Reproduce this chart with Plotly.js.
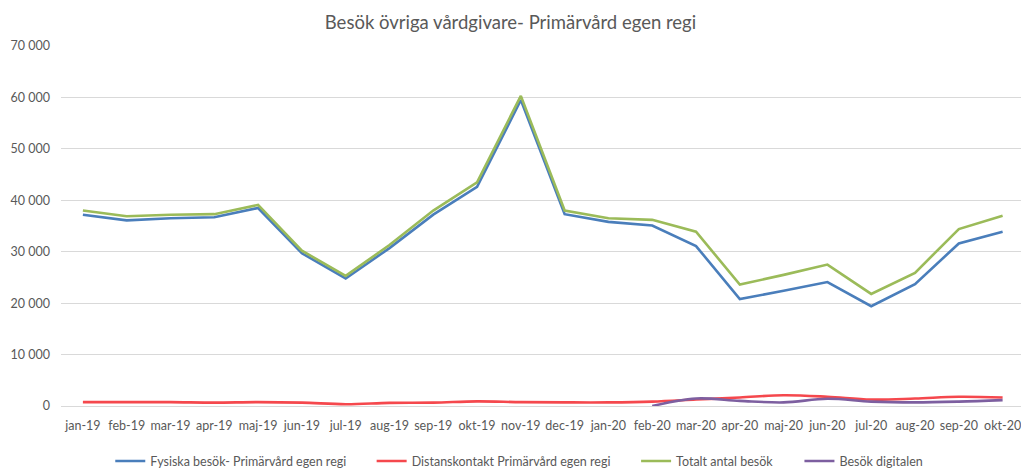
<!DOCTYPE html>
<html>
<head>
<meta charset="utf-8">
<script src="https://cdn.plot.ly/plotly-3.0.1.min.js"></script>
<style>html,body{margin:0;padding:0;background:#fff;}#chart{width:1021px;height:468px;}</style>
</head>
<body>
<div id="chart"></div>
<script>
const months = ["jan-19","feb-19","mar-19","apr-19","maj-19","jun-19","jul-19","aug-19","sep-19","okt-19","nov-19","dec-19",
                "jan-20","feb-20","mar-20","apr-20","maj-20","jun-20","jul-20","aug-20","sep-20","okt-20"];
const fysiska = [37200,36100,36500,36700,38500,29700,24800,30700,37200,42600,59500,37300,
                 35800,35100,31100,20800,22400,24100,19400,23700,31600,33900];
const distans = [750,750,750,650,750,650,350,600,650,900,750,700,
                 700,850,1250,1650,2100,1800,1250,1450,1800,1650];
const totalt  = [38000,36900,37200,37300,39100,30200,25300,31300,38000,43500,60300,38000,
                 36500,36200,33900,23600,25500,27500,21800,25900,34400,37000];
const digitalenMonths = ["feb-20","mar-20","apr-20","maj-20","jun-20","jul-20","aug-20","sep-20","okt-20"];
const digitalen = [0,1450,1000,700,1400,850,700,850,1150];
const seriesNames = ["Fysiska besök- Primärvård egen regi","Distanskontakt Primärvård egen regi","Totalt antal besök","Besök digitalen"];
const colors = ["#4a7ebb","#f5484d","#9bbb59","#7d5fa0"];

const font = "Lato, 'Open Sans', sans-serif";
const traces = [
  {x: months, y: fysiska, name: seriesNames[0], legend: "legend", line:{color:colors[0], width:2.6}},
  {x: months, y: distans, name: seriesNames[1], legend: "legend2", line:{color:colors[1], width:2.6, shape:"spline"}},
  {x: months, y: totalt, name: seriesNames[2], legend: "legend3", line:{color:colors[2], width:2.6}},
  {x: digitalenMonths, y: digitalen, name: seriesNames[3], legend: "legend4", line:{color:colors[3], width:2.6, shape:"spline"}}
].map(t => Object.assign({type:"scatter", mode:"lines", hoverinfo:"skip"}, t));

function leg(x){
  return {xref:"container", yref:"container", x:x, y:0.014, xanchor:"left", yanchor:"middle",
          orientation:"h", bgcolor:"rgba(0,0,0,0)", font:{family:font, size:12.5, color:"#595959"},
          itemwidth:30, tracegroupgap:0};
}
const layout = {
  width:1021, height:468,
  margin:{l:61, r:0, t:46, b:62},
  paper_bgcolor:"#fff", plot_bgcolor:"#fff",
  separators:", ",
  title:{text:"Besök övriga vårdgivare- Primärvård egen regi", x:0.5, xref:"container", y:0.951, yref:"container", yanchor:"middle",
         font:{family:font, size:18.5, color:"#595959"}},
  xaxis:{type:"category", range:[-0.5, 21.42], showgrid:false, zeroline:false, showline:false,
         ticks:"", ticklabelstandoff:10, tickfont:{family:font, size:12.5, color:"#595959"}, tickangle:0, fixedrange:true},
  yaxis:{range:[0,70000], dtick:10000, tickformat:",d", showgrid:true, gridcolor:"#d9d9d9", gridwidth:1,
         zeroline:true, zerolinecolor:"#d9d9d9", zerolinewidth:1, showline:false, ticks:"", ticklabelstandoff:10,
         tickfont:{family:font, size:12.5, color:"#595959"}, fixedrange:true},
  showlegend:true,
  legend: leg(0.108),
  legend2: leg(0.364),
  legend3: leg(0.623),
  legend4: leg(0.783)
};
Plotly.newPlot("chart", traces, layout, {displayModeBar:false, staticPlot:true});
</script>
</body>
</html>
